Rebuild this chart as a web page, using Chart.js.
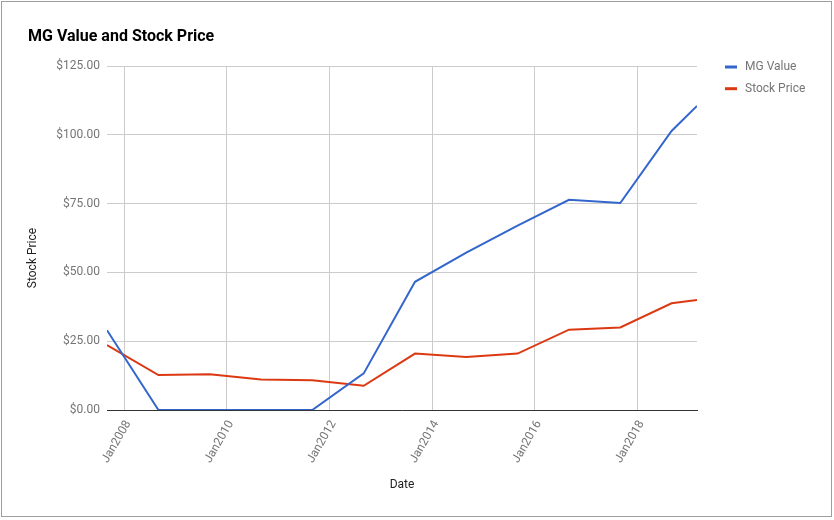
<!DOCTYPE html>
<html>
<head>
<meta charset="utf-8">
<script src="https://cdn.jsdelivr.net/npm/chart.js@4/dist/chart.umd.min.js"></script>
<style>
  body { margin: 0; background: #fff; }
  #wrap { position: relative; width: 834px; height: 520px; }
</style>
</head>
<body>
<div id="wrap"><canvas id="chart" width="834" height="520"></canvas></div>
<script>
// values
const dates = ['2007-08-31', '2008-08-31', '2009-08-31', '2010-08-31', '2011-08-31', '2012-08-31',
    '2013-08-31', '2014-08-31', '2015-08-31', '2016-08-31', '2017-08-31', '2018-08-31', '2019-02-28'];
const mgValue = [29.0, 0, 0, 0, 0, 13.3, 46.6, 57.2, 67.0, 76.4, 75.2, 101.4, 110.5];
const stockPrice = [23.6, 12.7, 13.0, 11.1, 10.8, 8.8, 20.5, 19.3, 20.5, 29.2, 30.0, 38.8, 40.0];
const tickYears = [2008, 2010, 2012, 2014, 2016, 2018];
const seriesNames = ['MG Value', 'Stock Price'];
const seriesColors = ['#3366cc', '#dc3912'];

const FONT = 'Roboto, "Noto Sans", sans-serif';
const times = dates.map(d => Date.parse(d));
const toPoints = values => values.map((v, i) => ({ x: times[i], y: v }));

// title, legend, axis titles and frame
const decorations = {
    id: 'decorations',
    afterDraw(chart) {
        const ctx = chart.ctx;
        const area = chart.chartArea;
        ctx.save();

        ctx.strokeStyle = '#9e9e9e';
        ctx.lineWidth = 1;
        ctx.strokeRect(1.5, 1.5, 830, 515);

        ctx.fillStyle = '#000';
        ctx.font = 'bold 16px ' + FONT;
        ctx.textBaseline = 'alphabetic';
        ctx.textAlign = 'left';
        ctx.fillText('MG Value and Stock Price', 28, 40.5);

        ctx.font = '12px ' + FONT;
        chart.data.datasets.forEach((ds, i) => {
            const y = 70 + i * 21.7;
            ctx.fillStyle = ds.borderColor;
            ctx.fillRect(725, y - 4.5, 12, 3);
            ctx.fillStyle = '#757575';
            ctx.fillText(ds.label, 745, y);
        });

        ctx.fillStyle = '#222';
        ctx.textAlign = 'center';
        ctx.fillText('Date', (area.left + area.right) / 2, 487.5);

        ctx.textBaseline = 'middle';
        ctx.translate(33, 258);
        ctx.rotate(-Math.PI / 2);
        ctx.fillText('Stock Price', 0, 0);
        ctx.restore();
    }
};

new Chart(document.getElementById('chart'), {
    type: 'line',
    data: {
        datasets: [
            { label: seriesNames[0], data: toPoints(mgValue), borderColor: seriesColors[0], backgroundColor: seriesColors[0] },
            { label: seriesNames[1], data: toPoints(stockPrice), borderColor: seriesColors[1], backgroundColor: seriesColors[1] }
        ]
    },
    options: {
        responsive: false,
        animation: false,
        layout: { padding: { left: 0, right: 137, top: 66, bottom: 0 } },
        elements: {
            line: { borderWidth: 2, tension: 0 },
            point: { radius: 0, hoverRadius: 0 }
        },
        plugins: {
            legend: { display: false },
            title: { display: false },
            tooltip: { enabled: false }
        },
        scales: {
            x: {
                type: 'linear',
                min: times[0],
                max: times[times.length - 1],
                afterFit: scale => { scale.height = 110; },
                afterBuildTicks: scale => {
                    scale.ticks = tickYears.map(y => ({ value: Date.UTC(y, 0, 1) }));
                },
                grid: { color: '#cccccc', drawTicks: false },
                border: { display: true, color: '#333333', width: 1 },
                ticks: {
                    autoSkip: false,
                    minRotation: 60,
                    maxRotation: 60,
                    padding: 8,
                    labelOffset: 4,
                    color: '#757575',
                    font: { family: FONT, size: 12 },
                    callback: value => 'Jan' + new Date(value).getUTCFullYear()
                }
            },
            y: {
                min: 0,
                max: 125,
                afterFit: scale => { scale.width = 107; },
                grid: { color: '#cccccc', drawTicks: false },
                border: { display: false },
                ticks: {
                    stepSize: 25,
                    padding: 7,
                    color: '#757575',
                    font: { family: FONT, size: 12 },
                    callback: value => '$' + value.toFixed(2)
                }
            }
        }
    },
    plugins: [decorations]
});
</script>
</body>
</html>
